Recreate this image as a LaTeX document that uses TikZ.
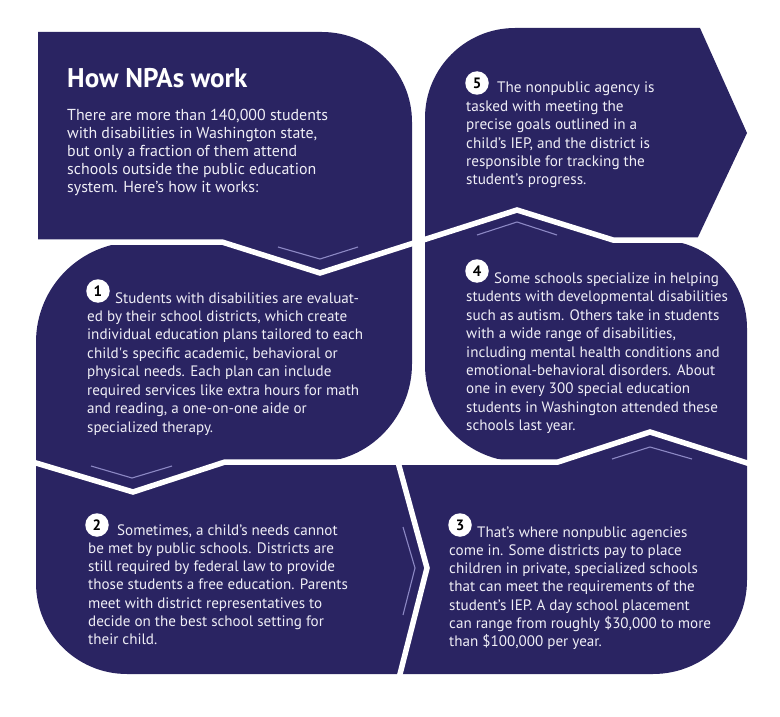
\documentclass[tikz,border=0pt]{standalone}
\usepackage{fontspec}
\setmainfont{PT Sans}
\definecolor{navy}{HTML}{2A2462}
\definecolor{paper}{HTML}{EFEEF6}
\definecolor{thinline}{HTML}{8C88C4}
\newcommand\paratext[3]{\begin{minipage}[t]{400pt}\fontsize{#2}{#1}\selectfont\raggedright #3\end{minipage}}
\tikzset{
  panel/.style={fill=navy, draw=none},
  sep/.style={draw=white, line width=5.5pt, line join=miter},
  chev/.style={draw=thinline, line width=1.1pt},
  badge/.style={circle, fill=white, minimum size=23.5pt, inner sep=0pt, text=black,
    font=\bfseries\fontsize{15}{15}\selectfont},
  para/.style={anchor=base west, inner sep=0pt, text=paper},
}
\begin{document}
\begin{tikzpicture}[x=1pt,y=-1pt]
\useasboundingbox (0,0) rectangle (780,717);
% panels
\path[panel] (38,32) -- (322,32) .. controls (371.7,32) and (412,72.3) .. (412,122)
  -- (412,243.6) -- (320,273) -- (222,242) -- (38,242) -- cycle;
\path[panel] (425,239.4) -- (425,118) .. controls (425,68.3) and (465.3,28) .. (515,28)
  -- (700,28) -- (747,133) -- (696.6,240) -- (613,240) -- (517,210) -- cycle;
\path[panel] (36,463) -- (36,342) .. controls (36,286.8) and (80.8,242) .. (136,242)
  -- (222,242) -- (320,273) -- (412,243.6) -- (412,364) .. controls (412,416.5) and (369.5,462) .. (317,462)
  -- (225,462) -- (133,492) -- cycle;
\path[panel] (425,239.4) -- (517,210) -- (613,240) -- (659,240) .. controls (707.6,240) and (747,279.4) .. (747,328)
  -- (747,463) -- (650,432) -- (558,462) -- (522,462) .. controls (468.4,462) and (425,418.6) .. (425,365) -- cycle;
\path[panel] (36,463) -- (133,492) -- (225,462) -- (398,462) -- (427,568) -- (400,674)
  -- (127,674) .. controls (76.7,674) and (36,633.3) .. (36,583) -- cycle;
\path[panel] (398,462) -- (558,462) -- (650,432) -- (747,463) -- (747,580)
  .. controls (747,631.9) and (704.9,674) .. (653,674) -- (400,674) -- (427,568) -- cycle;
% separators
\coordinate (sa0) at (30,242);  \coordinate (sa1) at (222,242); \coordinate (sa2) at (320,273);
\coordinate (sa3) at (517,210); \coordinate (sa4) at (613,240); \coordinate (sa5) at (755,240);
\draw[sep] (sa0) -- (sa1) -- (sa2) -- (sa3) -- (sa4) -- (sa5);
\coordinate (sb0) at (30,461.2); \coordinate (sb1) at (133,492); \coordinate (sb2) at (225,462);
\coordinate (sb3) at (558,462); \coordinate (sb4) at (650,432); \coordinate (sb5) at (755,465.5);
\draw[sep] (sb0) -- (sb1) -- (sb2) -- (sb3) -- (sb4) -- (sb5);
\coordinate (sc0) at (396.6,457); \coordinate (sc1) at (427,568); \coordinate (sc2) at (399,678);
\draw[sep] (sc0) -- (sc1) -- (sc2);
% thin chevrons
\coordinate (t0a) at (278,247); \coordinate (t0b) at (320,259); \coordinate (t0c) at (358,247);
\draw[chev] (t0a) -- (t0b) -- (t0c);
\coordinate (t5a) at (477,235); \coordinate (t5b) at (517,222); \coordinate (t5c) at (557,235);
\draw[chev] (t5a) -- (t5b) -- (t5c);
\coordinate (t4a) at (612,459); \coordinate (t4b) at (650,447); \coordinate (t4c) at (692,459);
\draw[chev] (t4a) -- (t4b) -- (t4c);
\coordinate (t1a) at (91,466); \coordinate (t1b) at (132,478); \coordinate (t1c) at (172,466);
\draw[chev] (t1a) -- (t1b) -- (t1c);
\coordinate (t2a) at (403,527); \coordinate (t2b) at (415,568); \coordinate (t2c) at (403,615);
\draw[chev] (t2a) -- (t2b) -- (t2c);
% texts
\node[anchor=base west, inner sep=0pt, text=white, font=\bfseries\fontsize{27}{27}\selectfont] (title) at (67,88) {How NPAs work};
\node[para] (intro) at (67,121) {\paratext{18}{15.9}{There are more than 140,000 students\\
with disabilities in Washington state,\\
but only a fraction of them attend\\
schools outside the public education\\
system. Here’s how it works:}};
\node[para] (p5) at (466,93) {\paratext{18.4}{15.2}{\hspace*{31pt}The nonpublic agency is\\
tasked with meeting the\\
precise goals outlined in a\\
child’s IEP, and the district is\\
responsible for tracking the\\
student’s progress.}};
\node[para] (p1) at (87,303) {\paratext{18.43}{15.1}{\hspace*{28pt}Students with disabilities are evaluat-\\
ed by their school districts, which create\\
individual education plans tailored to each\\
child\textquotesingle s specific academic, behavioral or\\
physical needs. Each plan can include\\
required services like extra hours for math\\
and reading, a one-on-one aide or\\
specialized therapy.}};
\node[para] (p4) at (466,283) {\paratext{18.5}{15.1}{\hspace*{28pt}Some schools specialize in helping\\
students with developmental disabilities\\
such as autism. Others take in students\\
with a wide range of disabilities,\\
including mental health conditions and\\
emotional-behavioral disorders. About\\
one in every 300 special education\\
students in Washington attended these\\
schools last year.}};
\node[para] (p2) at (88,535) {\paratext{18.3}{15.1}{\hspace*{29pt}Sometimes, a child’s needs cannot\\
be met by public schools. Districts are\\
still required by federal law to provide\\
those students a free education. Parents\\
meet with district representatives to\\
decide on the best school setting for\\
their child.}};
\node[para] (p3) at (449,537) {\paratext{18.3}{15.1}{\hspace*{28pt}That’s where nonpublic agencies\\
come in. Some districts pay to place\\
children in private, specialized schools\\
that can meet the requirements of the\\
student’s IEP. A day school placement\\
can range from roughly \$30,000 to more\\
than \$100,000 per year.}};
% badges
\node[badge] (b5) at (477,83) {5};
\node[badge] (b1) at (98,291) {1};
\node[badge] (b4) at (477,271) {4};
\node[badge] (b2) at (97,525) {2};
\node[badge] (b3) at (460,525) {3};
\end{tikzpicture}
\end{document}
